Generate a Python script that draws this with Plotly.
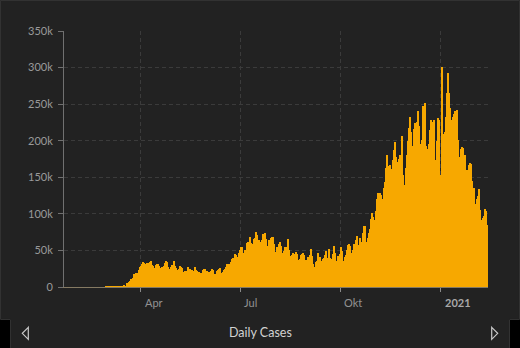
import pandas as pd
import plotly.graph_objects as go

# Daily new cases, one list per month (first list starts on 22 Jan 2020)
jan_2020 = [1, 0, 1, 0, 3, 0, 0, 0, 0, 2]
feb_2020 = [1, 0, 3, 0, 0, 0, 0, 0, 0, 1, 0, 1, 0, 0, 0, 0, 0, 0, 0, 0,
            2, 0, 0, 0, 0, 0, 3, 0, 7]
mar_2020 = [8, 23, 20, 31, 68, 45, 140, 116, 65, 376, 322, 382, 516, 548, 772,
            1133, 1789, 1362, 5894, 5423, 6389, 7787, 10571, 9893, 12038,
            18058, 17821, 19821, 19408, 22922, 27341]
apr_2020 = [29200, 32100, 33800, 33300, 30800, 31000, 32500, 32500, 34400,
            35500, 29800, 28100, 25400, 26600, 30100, 31300, 31800, 29100,
            26300, 28000, 25600, 29400, 32800, 35500, 34500, 26800, 22400,
            24400, 27300, 29900]
may_2020 = [35000, 29300, 25500, 22400, 23900, 25100, 29000, 27300, 25300,
            20100, 18500, 22200, 21400, 27300, 25200, 24700, 19500, 22800,
            20900, 22400, 27800, 23900, 22400, 19900, 19800, 17100, 19400,
            22700, 24200, 24600, 20500]
jun_2020 = [21700, 19700, 20600, 21600, 25200, 22700, 17500, 17700, 18200,
            21400, 22800, 25000, 25300, 19300, 19900, 23500, 24800, 27600,
            31300, 32100, 26600, 31600, 34700, 38300, 39800, 45300, 44000,
            41700, 40700, 47000]
jul_2020 = [50500, 55000, 54400, 45300, 46000, 50800, 59900, 61900, 59100,
            68000, 60600, 58900, 58400, 66100, 66600, 75700, 71400, 63700,
            61800, 61600, 64900, 71800, 69300, 74000, 65600, 55800, 56000,
            64500, 67600, 68600, 68400]
aug_2020 = [58400, 46800, 47500, 54300, 53800, 58300, 62000, 55600, 46500,
            49000, 55000, 55200, 51700, 65200, 50700, 41900, 40400, 44000,
            46400, 44700, 48000, 45000, 34500, 36600, 38700, 43700, 45700,
            46800, 43500, 34600, 37200]
sep_2020 = [41700, 31900, 44100, 51300, 42600, 31300, 24600, 27200, 34500,
            36200, 47000, 40600, 34700, 35700, 38500, 40300, 44100, 49500,
            40000, 36400, 52100, 39300, 38600, 44700, 55600, 47100, 34700,
            35900, 42500, 39400]
oct_2020 = [45200, 54700, 49800, 35600, 41700, 43700, 50600, 57400, 58600,
            55400, 45900, 42000, 50000, 59000, 63600, 70200, 57800, 49600,
            66700, 61400, 62000, 74300, 83700, 83300, 61100, 67000, 74100,
            79300, 92500, 101100, 96300]
nov_2020 = [86000, 92000, 104000, 121000, 128000, 128000, 126000, 106000,
            120000, 136000, 143000, 163000, 181000, 165000, 135000, 167000,
            161000, 173000, 187000, 198000, 178000, 143000, 171000, 175000,
            181000, 114000, 207000, 153000, 139000, 163000]
dec_2020 = [180000, 200000, 217000, 233000, 212000, 176000, 193000, 216000,
            224000, 225000, 240000, 220000, 189000, 196000, 201000, 247000,
            236000, 252000, 193000, 188000, 196000, 215000, 229000, 210000,
            226000, 228000, 172000, 174000, 199000, 231000, 229000]
jan_2021 = [153000, 301000, 209000, 195000, 212000, 232000, 265000, 293000,
            265000, 245000, 228000, 232000, 236000, 240000, 241000, 242000,
            201000, 160000, 178000, 188000, 192000, 190000, 180000, 150000,
            160000, 158000, 167000, 170000, 168000, 145000, 118000]
feb_2021 = [135000, 113000, 121000, 125000, 134000, 105000, 92000, 90000,
            94000, 97000, 107000, 104000, 85000]

daily_cases = (jan_2020 + feb_2020 + mar_2020 + apr_2020 + may_2020 + jun_2020
               + jul_2020 + aug_2020 + sep_2020 + oct_2020 + nov_2020
               + dec_2020 + jan_2021 + feb_2021)
dates = pd.date_range("2020-01-22", periods=len(daily_cases), freq="D")

quarter_ticks = ["2020-04-01", "2020-07-01", "2020-10-01", "2021-01-01"]
quarter_labels = ["Apr", "Jul", "Okt", "2021"]
y_ticks = [0, 50000, 100000, 150000, 200000, 250000, 300000, 350000]

W, H = 520, 348
ML, MR, MT, MB = 64, 32, 31, 61
PW, PH = W - ML - MR, H - MT - MB


def px_x(px):
    return (px - ML) / PW


def px_y(py):
    return (MT + PH - py) / PH


BG = "#222222"
GRID = "#3b3b3b"
AXIS = "#707070"
FONT = "Lato, 'Noto Sans', sans-serif"

fig = go.Figure(
    go.Bar(
        x=dates,
        y=daily_cases,
        marker=dict(color="#f7a800", line=dict(width=0)),
        hoverinfo="skip",
    )
)

fig.update_layout(
    width=W,
    height=H,
    margin=dict(l=ML, r=MR, t=MT, b=MB, pad=0),
    paper_bgcolor=BG,
    plot_bgcolor=BG,
    bargap=0,
    showlegend=False,
    font=dict(family=FONT, color="#9a9a9a", size=11),
)

fig.update_xaxes(
    type="date",
    range=["2020-01-21 12:00", "2021-02-13 12:00"],
    tickvals=quarter_ticks,
    showticklabels=False,
    ticks="outside",
    ticklen=4,
    tickcolor="#8a8a8a",
    showgrid=True,
    gridcolor=GRID,
    griddash="4px,3px",
    gridwidth=1,
    showline=True,
    linecolor="#857a63",
    linewidth=1,
    zeroline=False,
    layer="below traces",
    fixedrange=True,
)

fig.update_yaxes(
    range=[0, 350000],
    tickvals=y_ticks,
    tickformat="~s",
    ticks="outside",
    ticklen=5,
    tickcolor=AXIS,
    ticklabelstandoff=3,
    tickfont=dict(size=11, color="#9a9a9a"),
    showgrid=True,
    gridcolor=GRID,
    griddash="4px,3px",
    gridwidth=1,
    showline=True,
    linecolor=AXIS,
    linewidth=1,
    zeroline=False,
    fixedrange=True,
)

# Quarter labels sit just to the right of their tick
annotations = []
for val, lab in zip(quarter_ticks, quarter_labels):
    bold = lab == "2021"
    annotations.append(dict(
        x=val, xref="x", y=px_y(302), yref="paper",
        text=f"<b>{lab}</b>" if bold else lab,
        xanchor="left", yanchor="middle", xshift=2,
        showarrow=False,
        font=dict(family=FONT, size=11, color="#a8a8a8" if bold else "#929292"),
    ))

annotations.append(dict(
    x=px_x(260), xref="paper", y=px_y(332), yref="paper",
    text="Daily Cases", xanchor="center", yanchor="middle",
    showarrow=False,
    font=dict(family=FONT, size=12.5, color="#d2d2d2"),
))
fig.update_layout(annotations=annotations)


def path(points, close=False):
    s = "M " + " L ".join(f"{px_x(a):.5f},{px_y(b):.5f}" for a, b in points)
    return s + (" Z" if close else "")


shapes = [
    # black corners beside the footer strip
    dict(type="rect", xref="paper", yref="paper",
         x0=px_x(0), x1=px_x(11), y0=px_y(348), y1=px_y(319),
         fillcolor="#000000", line=dict(width=0), layer="above"),
    dict(type="rect", xref="paper", yref="paper",
         x0=px_x(509), x1=px_x(520), y0=px_y(348), y1=px_y(319),
         fillcolor="#000000", line=dict(width=0), layer="above"),
    # panel outline
    dict(type="path", xref="paper", yref="paper",
         path=path([(10.5, 348), (10.5, 319.5), (0.5, 319.5), (0.5, 0.5),
                    (519.5, 0.5), (519.5, 319.5), (509.5, 319.5),
                    (509.5, 348)]),
         line=dict(color="#323232", width=1), layer="above"),
    # footer arrows
    dict(type="path", xref="paper", yref="paper",
         path=path([(28.3, 327.3), (22.3, 333.3), (28.3, 339.3)], close=True),
         line=dict(color="#c8c8c8", width=1.2), layer="above"),
    dict(type="path", xref="paper", yref="paper",
         path=path([(491.7, 327.3), (497.7, 333.3), (491.7, 339.3)], close=True),
         line=dict(color="#c8c8c8", width=1.2), layer="above"),
]
fig.update_layout(shapes=shapes)

fig.write_html("out.html", config={"displayModeBar": False})
